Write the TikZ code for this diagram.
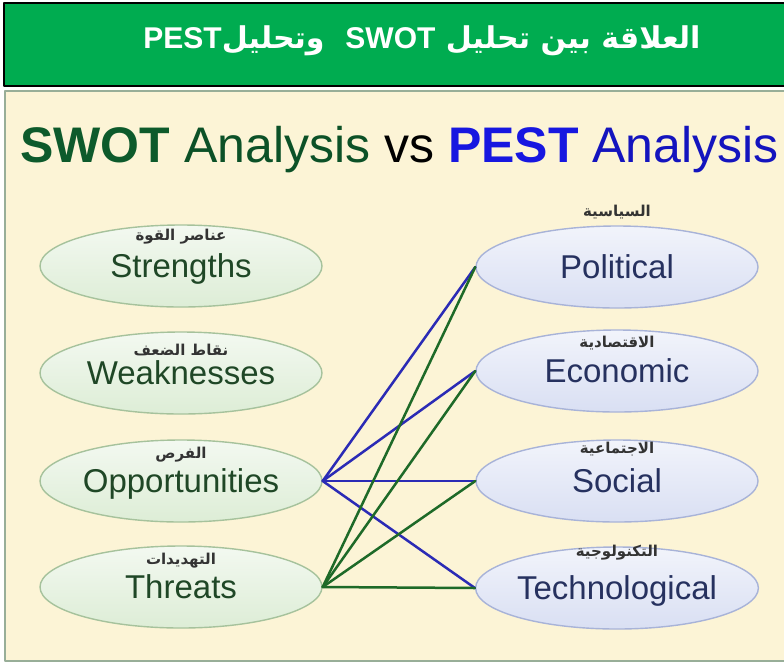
\documentclass[tikz,border=0pt]{standalone}
\usepackage{fontspec}
\setmainfont{Liberation Sans}
\newfontfamily\arabicfont[Script=Arabic]{DejaVu Sans}
\TeXXeTstate=1
\usetikzlibrary{shapes.geometric}
\definecolor{BannerGreen}{HTML}{00AC50}
\definecolor{PanelCream}{HTML}{FCF4D6}
\definecolor{PanelEdge}{HTML}{98AE98}
\definecolor{SwotFill}{HTML}{DDEDD6}
\definecolor{SwotEdge}{HTML}{A6C29C}
\definecolor{SwotText}{HTML}{1F4726}
\definecolor{PestFill}{HTML}{D9DFF3}
\definecolor{PestEdge}{HTML}{A8B3D8}
\definecolor{PestText}{HTML}{26315F}
\definecolor{LinkBlue}{HTML}{2B2BB5}
\definecolor{LinkGreen}{HTML}{1E6A28}
\definecolor{TitleGreen}{HTML}{0D5A2B}
\definecolor{TitleBlue}{HTML}{1717E0}

\begin{document}
\begin{tikzpicture}[x=1pt,y=-1pt,line cap=round,line join=round,
  oval/.style={ellipse,line width=1.4pt,minimum width=282pt,minimum height=82pt,inner sep=0pt,
    font=\fontsize{33}{33}\selectfont,text height=23.6pt,text depth=0pt},
  swot/.style={oval,draw=SwotEdge,top color=SwotFill!35!white,bottom color=SwotFill,text=SwotText},
  pest/.style={oval,draw=PestEdge,top color=PestFill!35!white,bottom color=PestFill,text=PestText},
  arlbl/.style={font=\arabicfont\bfseries\fontsize{15}{15}\selectfont,text=black!80,inner sep=0pt},
  bluelink/.style={LinkBlue,line width=2.5pt},
  greenlink/.style={LinkGreen,line width=2.5pt}]
  \useasboundingbox (0,0) rectangle (784,665);
  \fill[white] (0,0) rectangle (784,665);
  % banner and panel
  \draw[black,fill=BannerGreen,line width=1.8pt] (4,3) rectangle (792,86);
  \draw[PanelEdge,fill=PanelCream,line width=2pt] (5,91) rectangle (792,661);
  \node[text=white,font=\arabicfont\bfseries\fontsize{30}{30}\selectfont] (head) at (422,41)
    {\beginR العلاقة بين تحليل \beginL{\rmfamily SWOT}\endL\ \ وتحليل\beginL{\rmfamily PEST}\endL\endR};
  \node[anchor=base west,inner sep=0pt,font=\fontsize{50}{50}\selectfont] (title) at (20,162)
    {\textcolor{TitleGreen}{\bfseries SWOT} \textcolor{TitleGreen!90!black}{Analysis} vs \textcolor{TitleBlue}{\bfseries PEST} \textcolor{TitleBlue!85!black}{Analysis}};
  % ovals
  \foreach \n/\w/\a/\y/\ay in {S/Strengths/عناصر القوة/266/237,W/Weaknesses/نقاط الضعف/373/350,
      O/Opportunities/الفرص/481/455,T/Threats/التهديدات/587/561}{
    \node[swot] (\n) at (181,\y) {\w};
    \node[arlbl] (\n-ar) at (181,\ay) {\beginR\a\endR};
  }
  \foreach \n/\w/\a/\y/\ay in {P/Political/السياسية/267/212,E/Economic/الاقتصادية/371/343,
      So/Social/الاجتماعية/481/449,Te/Technological/التكنولوجية/588/553}{
    \node[pest] (\n) at (617,\y) {\w};
    \node[arlbl] (\n-ar) at (617,\ay) {\beginR\a\endR};
  }
  % links
  \foreach \r in {P,E,So,Te}{\draw[bluelink] (O.east)--(\r.west);}
  \foreach \r in {P,E,So,Te}{\draw[greenlink] (T.east)--(\r.west);}
\end{tikzpicture}
\end{document}
